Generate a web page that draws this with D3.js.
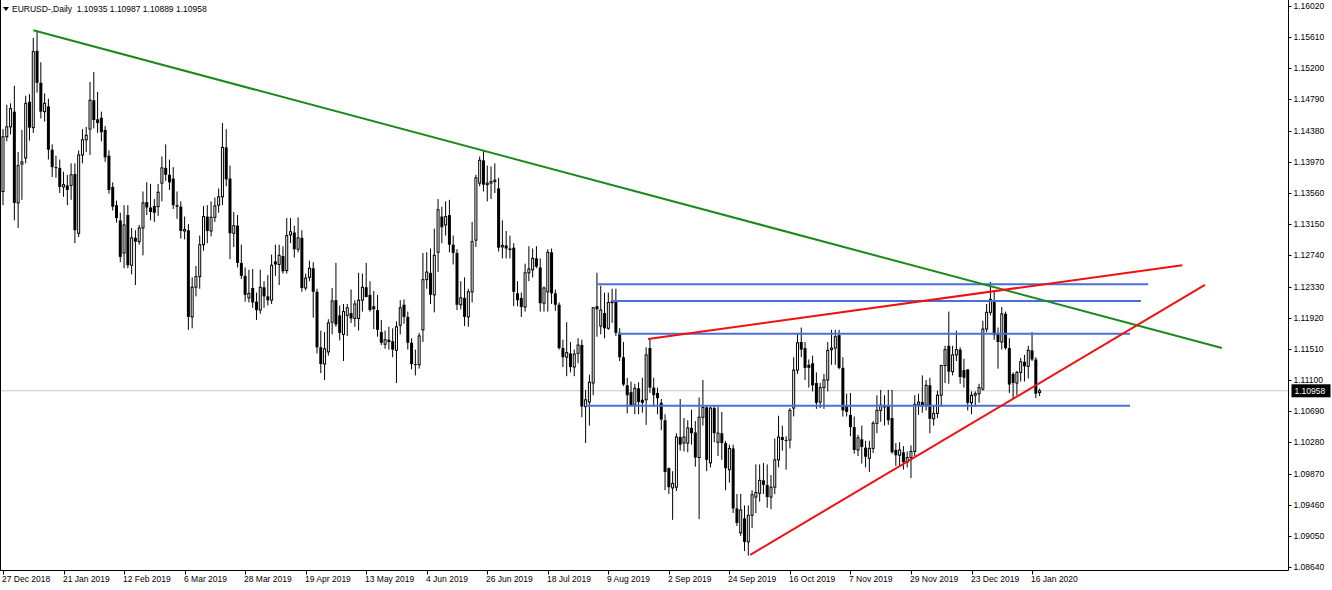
<!DOCTYPE html>
<html><head><meta charset="utf-8">
<script src="https://cdn.jsdelivr.net/npm/d3@7"></script>
<style>html,body{margin:0;padding:0;background:#fff;}svg{display:block;}</style>
</head><body>
<svg id="chart" width="1332" height="590"></svg>
<script>
// ---------- DATA ----------
const symbolTitle = "EURUSD-,Daily";
const headerValues = ["1.10935", "1.10987", "1.10889", "1.10958"];

const open = [1.1358,1.1430,1.1443,1.1463,1.1343,1.1394,1.1402,1.1476,1.1442,1.1543,1.1501,1.1463,1.1470,1.1413,1.1390,1.1389,1.1364,1.1366,1.1366,1.1381,1.1303,1.1406,1.1426,1.1440,1.1478,1.1453,1.1455,1.1439,1.1405,1.1364,1.1340,1.1320,1.1277,1.1327,1.1261,1.1297,1.1292,1.1310,1.1344,1.1337,1.1339,1.1338,1.1369,1.1389,1.1380,1.1375,1.1340,1.1338,1.1306,1.1307,1.1193,1.1232,1.1246,1.1288,1.1325,1.1306,1.1324,1.1340,1.1351,1.1416,1.1375,1.1303,1.1313,1.1264,1.1247,1.1218,1.1231,1.1213,1.1202,1.1232,1.1220,1.1215,1.1266,1.1262,1.1273,1.1254,1.1301,1.1304,1.1282,1.1297,1.1231,1.1245,1.1257,1.1226,1.1153,1.1131,1.1147,1.1186,1.1215,1.1195,1.1170,1.1195,1.1198,1.1191,1.1191,1.1215,1.1232,1.1222,1.1207,1.1202,1.1173,1.1157,1.1163,1.1161,1.1149,1.1182,1.1209,1.1193,1.1159,1.1131,1.1130,1.1176,1.1242,1.1251,1.1222,1.1278,1.1325,1.1314,1.1327,1.1288,1.1277,1.1209,1.1218,1.1193,1.1226,1.1294,1.1369,1.1399,1.1367,1.1369,1.1371,1.1362,1.1285,1.1287,1.1283,1.1284,1.1224,1.1218,1.1206,1.1251,1.1255,1.1270,1.1258,1.1211,1.1226,1.1278,1.1224,1.1209,1.1152,1.1140,1.1145,1.1127,1.1145,1.1156,1.1075,1.1081,1.1106,1.1207,1.1181,1.1198,1.1178,1.1212,1.1213,1.1172,1.1140,1.1103,1.1094,1.1077,1.1099,1.1084,1.1084,1.1152,1.1100,1.1093,1.1080,1.1057,1.0994,1.0968,1.0969,1.1035,1.1027,1.1027,1.1047,1.1041,1.1008,1.1061,1.1074,1.1001,1.1073,1.1028,1.1040,1.1027,1.0992,1.1020,1.0941,1.0909,1.0928,1.0897,1.0932,1.0956,1.0961,1.0978,1.0972,1.0956,1.0969,1.1005,1.1035,1.1031,1.1031,1.1073,1.1123,1.1160,1.1152,1.1130,1.1132,1.1106,1.1081,1.1100,1.1110,1.1150,1.1152,1.1169,1.1126,1.1077,1.1064,1.1048,1.1018,1.1032,1.1021,1.1007,1.1020,1.1053,1.1070,1.1077,1.1077,1.1060,1.1018,1.1011,1.1015,1.1002,1.1008,1.1016,1.1078,1.1081,1.1077,1.1103,1.1059,1.1066,1.1090,1.1129,1.1155,1.1121,1.1143,1.1150,1.1123,1.1124,1.1080,1.1090,1.1092,1.1098,1.1177,1.1199,1.1215,1.1172,1.1160,1.1197,1.1152,1.1118,1.1106,1.1120,1.1134,1.1128,1.1149,1.1137,1.10935];
const high = [1.1440,1.1472,1.1474,1.1497,1.1410,1.1439,1.1484,1.1486,1.1560,1.1570,1.1528,1.1487,1.1480,1.1420,1.1405,1.1400,1.1384,1.1380,1.1395,1.1395,1.1412,1.1440,1.1443,1.1502,1.1515,1.1489,1.1463,1.1444,1.1412,1.1370,1.1346,1.1330,1.1340,1.1340,1.1310,1.1307,1.1314,1.1358,1.1370,1.1368,1.1348,1.1368,1.1404,1.1420,1.1400,1.1390,1.1358,1.1345,1.1325,1.1315,1.1245,1.1260,1.1300,1.1339,1.1340,1.1345,1.1350,1.1362,1.1448,1.1440,1.1392,1.1331,1.1327,1.1288,1.1258,1.1255,1.1256,1.1225,1.1255,1.1240,1.1248,1.1275,1.1288,1.1288,1.1286,1.1323,1.1323,1.1313,1.1324,1.1307,1.1250,1.1267,1.1265,1.1230,1.1175,1.1173,1.1190,1.1231,1.1264,1.1208,1.1210,1.1210,1.1229,1.1215,1.1251,1.1250,1.1264,1.1240,1.1227,1.1222,1.1189,1.1175,1.1180,1.1178,1.1187,1.1215,1.1216,1.1200,1.1165,1.1150,1.1172,1.1277,1.1278,1.1283,1.1309,1.1348,1.1338,1.1345,1.1347,1.1300,1.1282,1.1240,1.1245,1.1230,1.1318,1.1380,1.1404,1.1412,1.1392,1.1391,1.1395,1.1376,1.1320,1.1306,1.1300,1.1290,1.1240,1.1225,1.1263,1.1286,1.1283,1.1286,1.1270,1.1233,1.1282,1.1283,1.1229,1.1212,1.1163,1.1186,1.1160,1.1150,1.1165,1.1163,1.1097,1.1117,1.1206,1.1251,1.1234,1.1225,1.1225,1.1230,1.1230,1.1178,1.1160,1.1113,1.1108,1.1105,1.1107,1.1113,1.1153,1.1164,1.1113,1.1100,1.1085,1.1065,1.0995,1.0990,1.1040,1.1085,1.1060,1.1057,1.1071,1.1056,1.1087,1.1110,1.1076,1.1075,1.1076,1.1075,1.1068,1.1030,1.1025,1.1025,1.0960,1.0960,1.0945,1.0945,1.0965,1.0999,1.0999,1.1001,1.0999,1.0985,1.1033,1.1063,1.1050,1.1036,1.1073,1.1140,1.1172,1.1179,1.1160,1.1137,1.1142,1.1120,1.1106,1.1118,1.1160,1.1176,1.1176,1.1176,1.1140,1.1092,1.1093,1.1062,1.1038,1.1050,1.1030,1.1030,1.1056,1.1090,1.1097,1.1090,1.1097,1.1097,1.1027,1.1028,1.1023,1.1016,1.1024,1.1090,1.1092,1.1116,1.1110,1.1113,1.1076,1.1096,1.1130,1.1155,1.1200,1.1155,1.1175,1.1153,1.1138,1.1124,1.1095,1.1095,1.1105,1.1188,1.1210,1.1239,1.1228,1.1179,1.1206,1.1200,1.1165,1.1120,1.1122,1.1139,1.1143,1.1155,1.1173,1.1140,1.10987];
const low = [1.1340,1.1424,1.1433,1.1320,1.1310,1.1347,1.1395,1.1425,1.1435,1.1488,1.1454,1.1450,1.1400,1.1377,1.1376,1.1356,1.1351,1.1340,1.1347,1.1290,1.1298,1.1395,1.1410,1.1406,1.1441,1.1435,1.1424,1.1397,1.1355,1.1333,1.1317,1.1265,1.1257,1.1257,1.1249,1.1235,1.1288,1.1274,1.1327,1.1320,1.1318,1.1326,1.1345,1.1372,1.1360,1.1335,1.1322,1.1296,1.1295,1.1176,1.1178,1.1220,1.1230,1.1280,1.1290,1.1299,1.1318,1.1330,1.1340,1.1365,1.1269,1.1285,1.1258,1.1243,1.1213,1.1212,1.1205,1.1189,1.1197,1.1205,1.1208,1.1210,1.1247,1.1235,1.1250,1.1250,1.1290,1.1271,1.1278,1.1226,1.1228,1.1240,1.1192,1.1145,1.1119,1.1110,1.1142,1.1170,1.1180,1.1162,1.1135,1.1168,1.1185,1.1180,1.1175,1.1200,1.1220,1.1200,1.1177,1.1167,1.1156,1.1151,1.1150,1.1140,1.1106,1.1170,1.1184,1.1150,1.1124,1.1116,1.1125,1.1160,1.1230,1.1210,1.1199,1.1252,1.1290,1.1300,1.1278,1.1262,1.1202,1.1203,1.1181,1.1180,1.1212,1.1285,1.1365,1.1358,1.1345,1.1348,1.1356,1.1279,1.1270,1.1270,1.1270,1.1207,1.1207,1.1193,1.1200,1.1240,1.1245,1.1257,1.1200,1.1200,1.1200,1.1210,1.1201,1.1150,1.1127,1.1115,1.1120,1.1115,1.1132,1.1061,1.1027,1.1050,1.1090,1.1167,1.1170,1.1165,1.1176,1.1185,1.1168,1.1135,1.1102,1.1066,1.1076,1.1065,1.1065,1.1067,1.1051,1.1093,1.1076,1.1065,1.1044,1.0965,1.0960,1.0926,1.0964,1.1017,1.1016,1.1015,1.1025,1.0996,1.0927,1.1050,1.0990,1.0995,1.1028,1.1010,1.1005,1.0965,1.0975,1.0935,1.0918,1.0905,1.0885,1.0879,1.0915,1.0935,1.0950,1.0960,1.0942,1.0940,1.0960,1.0995,1.1017,1.0992,1.1020,1.1062,1.1118,1.1140,1.1110,1.1100,1.1095,1.1072,1.1073,1.1072,1.1095,1.1130,1.1130,1.1124,1.1062,1.1062,1.1036,1.1013,1.1010,1.1000,1.0995,1.0989,1.1014,1.1040,1.1055,1.1050,1.1051,1.1013,1.0997,1.0997,1.0992,1.0995,1.0981,1.1010,1.1064,1.1067,1.1070,1.1040,1.1050,1.1060,1.1075,1.1106,1.1105,1.1116,1.1135,1.1105,1.1100,1.1070,1.1065,1.1075,1.1080,1.1096,1.1173,1.1195,1.1163,1.1125,1.1150,1.1150,1.1093,1.1085,1.1090,1.1108,1.1108,1.1112,1.1135,1.1086,1.10889];
const close = [1.1430,1.1443,1.1467,1.1343,1.1392,1.1397,1.1474,1.1442,1.1542,1.1501,1.1463,1.1474,1.1413,1.1390,1.1389,1.1364,1.1367,1.1360,1.1380,1.1307,1.1406,1.1426,1.1432,1.1478,1.1452,1.1448,1.1436,1.1403,1.1360,1.1338,1.1323,1.1272,1.1314,1.1261,1.1297,1.1292,1.1310,1.1343,1.1337,1.1331,1.1330,1.1357,1.1389,1.1380,1.1370,1.1340,1.1338,1.1306,1.1308,1.1193,1.1232,1.1246,1.1288,1.1325,1.1306,1.1324,1.1339,1.1351,1.1416,1.1374,1.1303,1.1313,1.1264,1.1247,1.1222,1.1224,1.1212,1.1202,1.1232,1.1220,1.1215,1.1261,1.1262,1.1274,1.1253,1.1300,1.1305,1.1282,1.1297,1.1231,1.1244,1.1257,1.1226,1.1153,1.1131,1.1151,1.1185,1.1214,1.1183,1.1172,1.1200,1.1205,1.1191,1.1210,1.1215,1.1232,1.1219,1.1202,1.1203,1.1176,1.1159,1.1163,1.1160,1.1150,1.1180,1.1205,1.1193,1.1159,1.1131,1.1130,1.1168,1.1242,1.1252,1.1222,1.1274,1.1334,1.1311,1.1325,1.1288,1.1277,1.1209,1.1218,1.1193,1.1226,1.1292,1.1376,1.1399,1.1367,1.1369,1.1371,1.1373,1.1284,1.1287,1.1283,1.1281,1.1226,1.1215,1.1206,1.1251,1.1256,1.1270,1.1259,1.1211,1.1231,1.1278,1.1224,1.1209,1.1152,1.1140,1.1146,1.1127,1.1144,1.1156,1.1075,1.1084,1.1107,1.1205,1.1203,1.1202,1.1178,1.1212,1.1213,1.1172,1.1140,1.1104,1.1090,1.1077,1.1099,1.1081,1.1080,1.1143,1.1100,1.1090,1.1086,1.1058,1.0989,1.0969,1.0974,1.1035,1.1025,1.1035,1.1047,1.1040,1.1008,1.1061,1.1074,1.1005,1.1073,1.1040,1.1040,1.1027,1.0994,1.1020,1.0941,1.0922,1.0939,1.0897,1.0932,1.0959,1.0962,1.0978,1.0972,1.0956,1.0969,1.1005,1.1035,1.1031,1.1030,1.1070,1.1123,1.1159,1.1150,1.1126,1.1126,1.1103,1.1080,1.1100,1.1110,1.1149,1.1152,1.1167,1.1126,1.1070,1.1068,1.1048,1.1018,1.1034,1.1022,1.1009,1.1020,1.1053,1.1070,1.1077,1.1074,1.1057,1.1015,1.1011,1.1018,1.1002,1.1008,1.1016,1.1078,1.1081,1.1077,1.1103,1.1059,1.1066,1.1090,1.1129,1.1150,1.1121,1.1143,1.1150,1.1114,1.1113,1.1080,1.1090,1.1092,1.1100,1.1177,1.1199,1.1216,1.1169,1.1160,1.1197,1.1152,1.1104,1.1106,1.1120,1.1134,1.1128,1.1149,1.1137,1.1092,1.10958];

const priceTicks = [1.16020,1.15610,1.15200,1.14790,1.14380,1.13970,1.13560,1.13150,1.12740,1.12330,1.11920,1.11510,1.11100,1.10690,1.10280,1.09870,1.09460,1.09050,1.08640];
const dateTickIndex = [0,16,32,48,64,80,96,112,128,144,160,176,192,208,224,240,256,272];
const dateTickLabels = ["27 Dec 2018","21 Jan 2019","12 Feb 2019","6 Mar 2019","28 Mar 2019","19 Apr 2019","13 May 2019","4 Jun 2019","26 Jun 2019","18 Jul 2019","9 Aug 2019","2 Sep 2019","24 Sep 2019","16 Oct 2019","7 Nov 2019","29 Nov 2019","23 Dec 2019","16 Jan 2020"];

const lastPrice = 1.10958;
// trend lines: [barIndex, price]
const greenTrend = [[8, 1.1570], [322.2, 1.1152]];
const redUpper = [[170.5, 1.1164], [311.7, 1.1261]];
const redLower = [[197.5, 1.0880], [317.7, 1.1235]];
// horizontal levels
const levelPrice = [1.1236, 1.1214, 1.1171, 1.1076];
const levelStart = [157.0, 161.0, 162.6, 154.1];
const levelEnd = [302.7, 300.8, 297.9, 297.9];

// ---------- DRAW ----------
const svg = d3.select("#chart");
const W = 1332, H = 590;
const axisX = 1288.5, axisY = 570.5;
const FONT = "'Liberation Sans', Arial, sans-serif";

const x = d3.scaleLinear().domain([0, open.length - 1]).range([3, 1039.6]);
const y = d3.scaleLinear().domain([1.0864, 1.1602]).range([567, 6]);

svg.append("rect").attr("width", W).attr("height", H).attr("fill", "#fff");

const plot = svg.append("g");
plot.append("clipPath").attr("id", "clip").append("rect")
  .attr("x", 0).attr("y", 0).attr("width", axisX).attr("height", axisY);

// bid line
plot.append("line").attr("x1", 0).attr("x2", axisX)
  .attr("y1", y(lastPrice)).attr("y2", y(lastPrice))
  .attr("stroke", "#c8c8c8").attr("stroke-width", 1);

// candles
const cg = plot.append("g").attr("clip-path", "url(#clip)");
const idx = d3.range(open.length);
cg.selectAll("line.wick").data(idx).join("line").attr("class", "wick")
  .attr("x1", i => x(i)).attr("x2", i => x(i))
  .attr("y1", i => y(high[i])).attr("y2", i => y(low[i]))
  .attr("stroke", "#000").attr("stroke-width", 1);
cg.selectAll("rect.body").data(idx).join("rect").attr("class", "body")
  .attr("x", i => close[i] >= open[i] ? x(i) - 1 : x(i) - 1.5)
  .attr("width", i => close[i] >= open[i] ? 2 : 3)
  .attr("y", i => y(Math.max(open[i], close[i])))
  .attr("height", i => Math.max(1, Math.abs(y(open[i]) - y(close[i]))))
  .attr("fill", i => close[i] >= open[i] ? "#fff" : "#000")
  .attr("stroke", "#000")
  .attr("stroke-width", i => close[i] >= open[i] ? 1 : 0);

// drawn objects
const lineGen = d3.line().x(d => x(d[0])).y(d => y(d[1]));
const og = plot.append("g").attr("clip-path", "url(#clip)");
levelPrice.forEach((p, k) => {
  og.append("line").attr("x1", x(levelStart[k])).attr("x2", x(levelEnd[k]))
    .attr("y1", y(p)).attr("y2", y(p))
    .attr("stroke", "#4a6fd8").attr("stroke-width", 2);
});
og.append("path").attr("d", lineGen(greenTrend)).attr("fill", "none")
  .attr("stroke", "#1a8a1a").attr("stroke-width", 2);
og.append("path").attr("d", lineGen(redUpper)).attr("fill", "none")
  .attr("stroke", "#f01010").attr("stroke-width", 2);
og.append("path").attr("d", lineGen(redLower)).attr("fill", "none")
  .attr("stroke", "#f01010").attr("stroke-width", 2);

// frame / axes lines
svg.append("line").attr("x1", axisX).attr("x2", axisX).attr("y1", 0).attr("y2", axisY)
  .attr("stroke", "#000").attr("stroke-width", 1);
svg.append("line").attr("x1", 0).attr("x2", axisX).attr("y1", axisY).attr("y2", axisY)
  .attr("stroke", "#000").attr("stroke-width", 1);
svg.append("line").attr("x1", 0.5).attr("x2", 0.5).attr("y1", 0).attr("y2", axisY)
  .attr("stroke", "#000").attr("stroke-width", 1);

// right price axis
const ya = svg.append("g");
priceTicks.forEach(p => {
  const yy = Math.round(y(p)) + 0.5;
  ya.append("line").attr("x1", axisX).attr("x2", axisX + 3).attr("y1", yy).attr("y2", yy)
    .attr("stroke", "#000");
  ya.append("text").attr("x", axisX + 5).attr("y", yy).attr("dy", "0.35em")
    .attr("font-family", FONT).attr("font-size", "8.5px").attr("fill", "#000")
    .text(p.toFixed(5));
});
// last price tag
const ly = y(lastPrice);
ya.append("rect").attr("x", axisX + 3).attr("y", ly - 6.5).attr("width", 39).attr("height", 13)
  .attr("fill", "#000");
ya.append("text").attr("x", axisX + 6).attr("y", ly).attr("dy", "0.35em")
  .attr("font-family", FONT).attr("font-size", "8.5px").attr("fill", "#fff")
  .text(lastPrice.toFixed(5));

// bottom date axis
const xa = svg.append("g");
dateTickIndex.forEach((i, k) => {
  const xx = Math.round(x(i)) + 0.5;
  xa.append("line").attr("x1", xx).attr("x2", xx).attr("y1", axisY).attr("y2", axisY + 4)
    .attr("stroke", "#000");
  xa.append("text").attr("x", xx - 1.5).attr("y", 582)
    .attr("font-family", FONT).attr("font-size", "8.5px").attr("fill", "#000")
    .text(dateTickLabels[k]);
});

// header
svg.append("path").attr("d", "M3,7 L9,7 L6,11 Z").attr("fill", "#000");
svg.append("text").attr("x", 12).attr("y", 12)
  .attr("font-family", FONT).attr("font-size", "8.5px").attr("fill", "#000")
  .attr("xml:space", "preserve")
  .text(symbolTitle + "  " + headerValues.join(" "));
</script>
</body></html>
